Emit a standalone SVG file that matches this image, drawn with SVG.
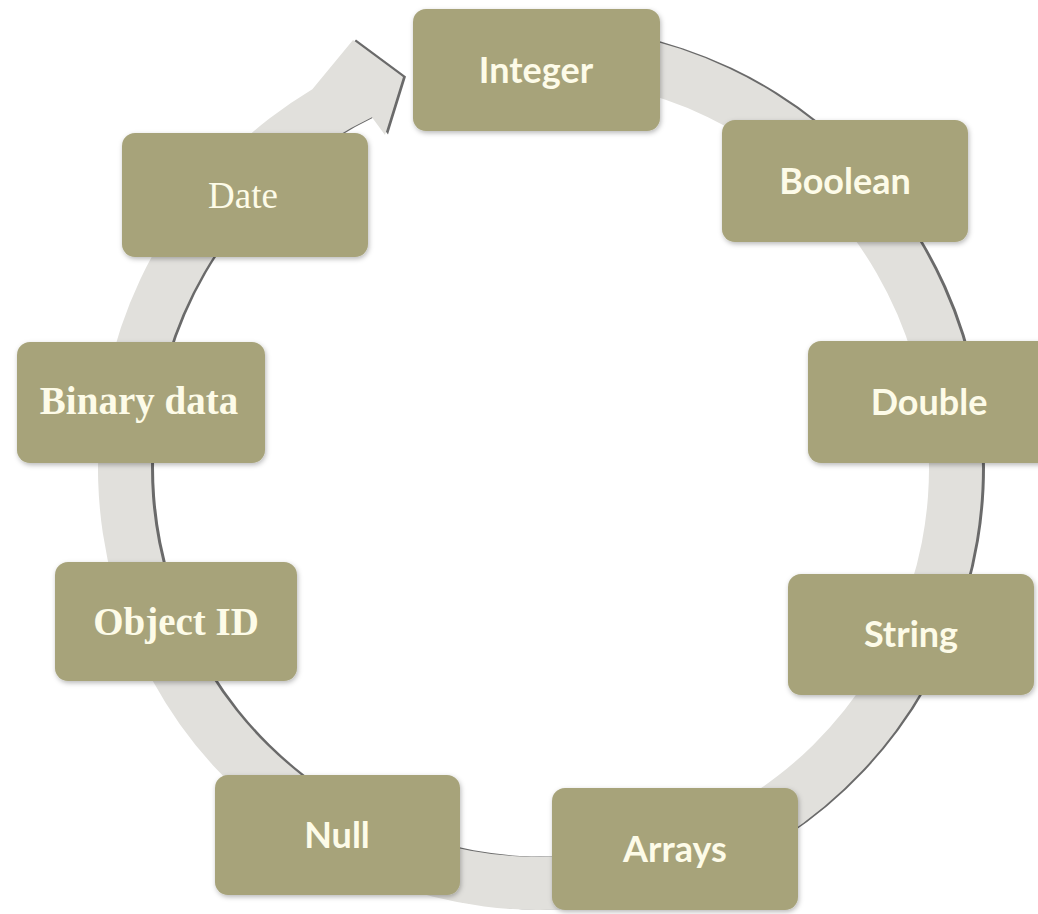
<svg xmlns="http://www.w3.org/2000/svg" width="1038" height="914" viewBox="0 0 1038 914">
  <defs>
    <filter id="boxShadow" x="-10%" y="-10%" width="120%" height="125%">
      <feDropShadow dx="1" dy="2" stdDeviation="2.5" flood-color="#000" flood-opacity="0.28"/>
    </filter>
    <filter id="edgeBlur" x="-5%" y="-5%" width="110%" height="110%">
      <feGaussianBlur stdDeviation="0.7"/>
    </filter>
    <path id="ringShape" d="M 578.52 27.68 A 442 442 0 1 1 312.35 89.13 L 353 40 L 403 77 L 385 135 L 371.95 117.18 A 389 389 0 1 0 573.9 80.48 Z"/>
  </defs>
  <style>
    .box { fill: #a7a37a; filter: url(#boxShadow); }
    .sans { font-family: Lato, "Open Sans", "Liberation Sans", sans-serif; font-weight: 700; font-size: 36px; fill: #fdfbe8; text-anchor: middle; }
    .serif { font-family: "Liberation Serif", "DejaVu Serif", serif; font-size: 39px; fill: #fdfbe8; text-anchor: middle; }
    .serif.bold { font-weight: 700; }
  </style>
  <rect width="1038" height="914" fill="#ffffff"/>

  <g id="connectors">
    <use href="#ringShape" fill="#6a6a6a" transform="translate(3,-0.4)" filter="url(#edgeBlur)"/>
    <use href="#ringShape" fill="#e1e0dc"/>
  </g>

  <g id="node-integer">
    <rect class="box" x="413" y="9" width="247" height="122" rx="13"/>
    <text class="sans" x="536" y="83">Integer</text>
  </g>
  <g id="node-boolean">
    <rect class="box" x="722" y="120" width="246" height="122" rx="13"/>
    <text class="sans" x="845" y="194">Boolean</text>
  </g>
  <g id="node-double">
    <rect class="box" x="808" y="341" width="246" height="122" rx="13"/>
    <text class="sans" x="929" y="415">Double</text>
  </g>
  <g id="node-string">
    <rect class="box" x="788" y="574" width="246" height="121" rx="13"/>
    <text class="sans" x="911" y="647">String</text>
  </g>
  <g id="node-arrays">
    <rect class="box" x="552" y="788" width="246" height="122" rx="13"/>
    <text class="sans" x="675" y="862">Arrays</text>
  </g>
  <g id="node-null">
    <rect class="box" x="215" y="775" width="245" height="120" rx="13"/>
    <text class="sans" x="337" y="848">Null</text>
  </g>
  <g id="node-objectid">
    <rect class="box" x="55" y="562" width="242" height="119" rx="13"/>
    <text class="serif bold" x="176" y="635">Object ID</text>
  </g>
  <g id="node-binarydata">
    <rect class="box" x="17" y="342" width="248" height="121" rx="13"/>
    <text class="serif bold" x="139" y="414">Binary data</text>
  </g>
  <g id="node-date">
    <rect class="box" x="122" y="133" width="246" height="124" rx="13"/>
    <text class="serif" x="243" y="208" style="font-size:37px">Date</text>
  </g>
</svg>
